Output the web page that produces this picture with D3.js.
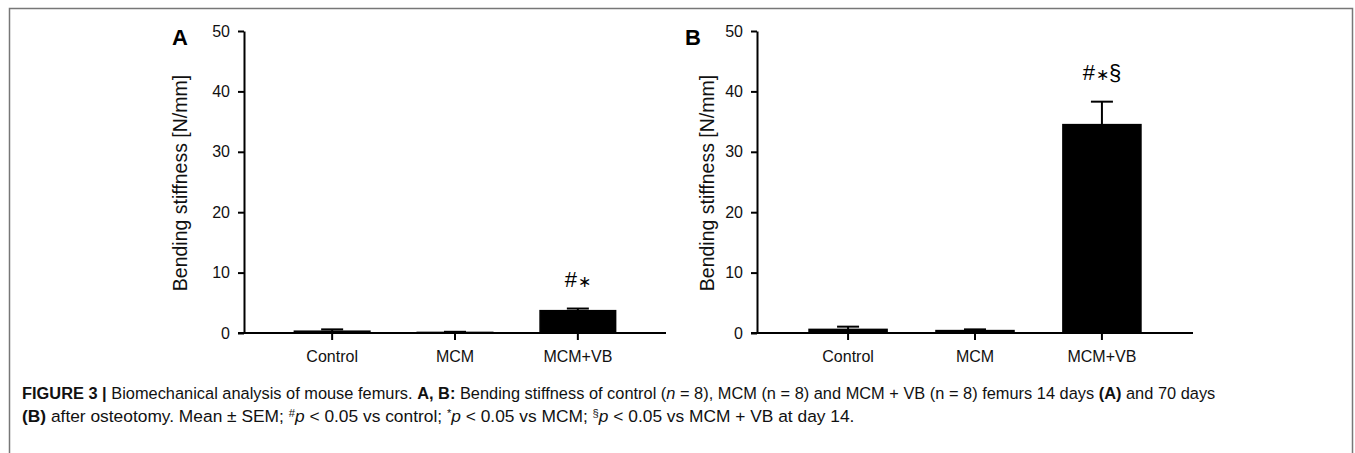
<!DOCTYPE html>
<html>
<head>
<meta charset="utf-8">
<script src="https://cdn.jsdelivr.net/npm/d3@7"></script>
<style>
  body { margin: 0; background: #fff; }
  svg { display: block; font-family: "Liberation Sans", Arial, sans-serif; }
  .caption { font-family: "Liberation Sans Narrow", "Arial Narrow", "Liberation Sans", sans-serif; font-size: 17px; fill: #111; }
</style>
</head>
<body>
<svg width="1355" height="453"></svg>
<script>
// groups and values (mean and SEM, N/mm)
const groups = ['Control', 'MCM', 'MCM+VB'];
const day14Mean = [0.3, 0.1, 3.7];
const day14Sem = [0.3, 0.1, 0.35];
const day70Mean = [0.6, 0.4, 34.5];
const day70Sem = [0.45, 0.2, 3.8];
const day14Marks = ['', '', '#∗'];
const day70Marks = ['', '', '#∗§'];
const yTicks = [0, 10, 20, 30, 40, 50];

const panels = [
    { label: 'A', left: 244, right: 666, titleOff: 64, mean: day14Mean, sem: day14Sem, marks: day14Marks },
    { label: 'B', left: 757, right: 1193, titleOff: 50, mean: day70Mean, sem: day70Sem, marks: day70Marks }
];

const svg = d3.select('svg');

// frame round the figure
svg.append('path')
    .attr('d', 'M9.5,460 V8.5 H1352.5 V460')
    .attr('fill', 'none')
    .attr('stroke', '#777')
    .attr('stroke-width', 1.5);

const y = d3.scaleLinear().domain([0, 50]).range([333, 31]);

panels.forEach(p => {
    const x = d3.scaleBand()
        .domain(groups)
        .range([p.left, p.right])
        .paddingInner(0.385)
        .paddingOuter(0.41);

    const g = svg.append('g');

    // bars
    g.selectAll('rect.bar')
        .data(groups)
        .join('rect')
        .attr('class', 'bar')
        .attr('x', d => x(d))
        .attr('width', x.bandwidth())
        .attr('y', (d, i) => y(p.mean[i]))
        .attr('height', (d, i) => y(0) - y(p.mean[i]))
        .attr('fill', '#000')
        .attr('stroke', '#000')
        .attr('stroke-width', 1.5);

    // error bars (upper half only)
    const eb = g.selectAll('g.err')
        .data(groups)
        .join('g')
        .attr('class', 'err')
        .attr('transform', d => `translate(${x(d) + x.bandwidth() / 2},0)`);
    eb.append('line')
        .attr('y1', (d, i) => y(p.mean[i]))
        .attr('y2', (d, i) => y(p.mean[i] + p.sem[i]))
        .attr('stroke', '#000').attr('stroke-width', 2);
    eb.append('line')
        .attr('x1', -11).attr('x2', 11)
        .attr('y1', (d, i) => y(p.mean[i] + p.sem[i]))
        .attr('y2', (d, i) => y(p.mean[i] + p.sem[i]))
        .attr('stroke', '#000').attr('stroke-width', 2);

    // significance marks, the star a bit smaller
    g.selectAll('text.mark')
        .data(groups)
        .join('text')
        .attr('class', 'mark')
        .attr('x', d => x(d) + x.bandwidth() / 2)
        .attr('y', (d, i) => y(p.mean[i] + p.sem[i]) - 22)
        .attr('text-anchor', 'middle')
        .attr('font-size', 22)
        .attr('fill', '#000')
        .each(function(d, i) {
            const t = d3.select(this);
            Array.from(p.marks[i]).forEach(ch => {
                const ts = t.append('tspan').text(ch);
                if (ch === '∗') ts.attr('font-size', 16).attr('dx', 1);
            });
        });

    // y axis
    const yAxis = g.append('g')
        .attr('transform', `translate(${p.left},0)`)
        .call(d3.axisLeft(y).tickValues(yTicks).tickSize(6).tickPadding(8).tickSizeOuter(0));
    yAxis.select('.domain').attr('stroke-width', 2);
    yAxis.selectAll('.tick line').attr('stroke-width', 2);
    yAxis.selectAll('text').attr('font-size', 16).attr('fill', '#111').attr('font-family', null);

    // x axis
    const xAxis = g.append('g')
        .attr('transform', `translate(0,${y(0)})`)
        .call(d3.axisBottom(x).tickSize(7).tickPadding(11).tickSizeOuter(0));
    xAxis.select('.domain')
        .attr('d', `M${p.left - 6},0H${p.right}`)
        .attr('stroke-width', 2);
    xAxis.selectAll('.tick line').attr('stroke-width', 2);
    xAxis.selectAll('text').attr('font-size', 16).attr('fill', '#111').attr('font-family', null);

    // axis title
    g.append('text')
        .attr('transform', `translate(${p.left - p.titleOff},${(y(0) + y(50)) / 2 + 1}) rotate(-90)`)
        .attr('text-anchor', 'middle')
        .attr('dy', '0.35em')
        .attr('font-size', 19.5)
        .attr('fill', '#111')
        .text('Bending stiffness [N/mm]');

    // panel letter
    g.append('text')
        .attr('x', p.left - 72)
        .attr('y', 45)
        .attr('font-size', 22)
        .attr('font-weight', 'bold')
        .attr('fill', '#000')
        .text(p.label);
});

// caption
const line1 = [
    ['FIGURE 3 ', 'bold'], ['| ', 'bold'], ['Biomechanical analysis of mouse femurs. '],
    ['A, B: ', 'bold'], ['Bending stiffness of control ('], ['n', 'italic'],
    [' = 8), MCM (n = 8) and MCM + VB (n = 8) femurs 14 days '], ['(A)', 'bold'], [' and 70 days']
];
const line2 = [
    ['(B)', 'bold'], [' after osteotomy. Mean ± SEM; '], ['#', 'sup'], ['p', 'italic'],
    [' < 0.05 vs control; '], ['*', 'sup'], ['p', 'italic'], [' < 0.05 vs MCM; '],
    ['§', 'sup'], ['p', 'italic'], [' < 0.05 vs MCM + VB at day 14.']
];

// squeeze each line horizontally to the width it takes in the picture
function captionLine(parts, yPos, width) {
    const t = svg.append('text')
        .attr('class', 'caption')
        .attr('x', 0)
        .attr('y', 0);
    parts.forEach(([s, style]) => {
        const ts = t.append('tspan').text(s);
        if (style === 'bold') ts.attr('font-weight', 'bold');
        if (style === 'italic') ts.attr('font-style', 'italic');
        if (style === 'sup') ts.attr('font-size', 11).attr('baseline-shift', '5');
    });
    const w = t.node().getComputedTextLength();
    t.attr('transform', `translate(22,${yPos}) scale(${width / w},1)`);
}
captionLine(line1, 399, 1194);
captionLine(line2, 422, 833);
</script>
</body>
</html>
